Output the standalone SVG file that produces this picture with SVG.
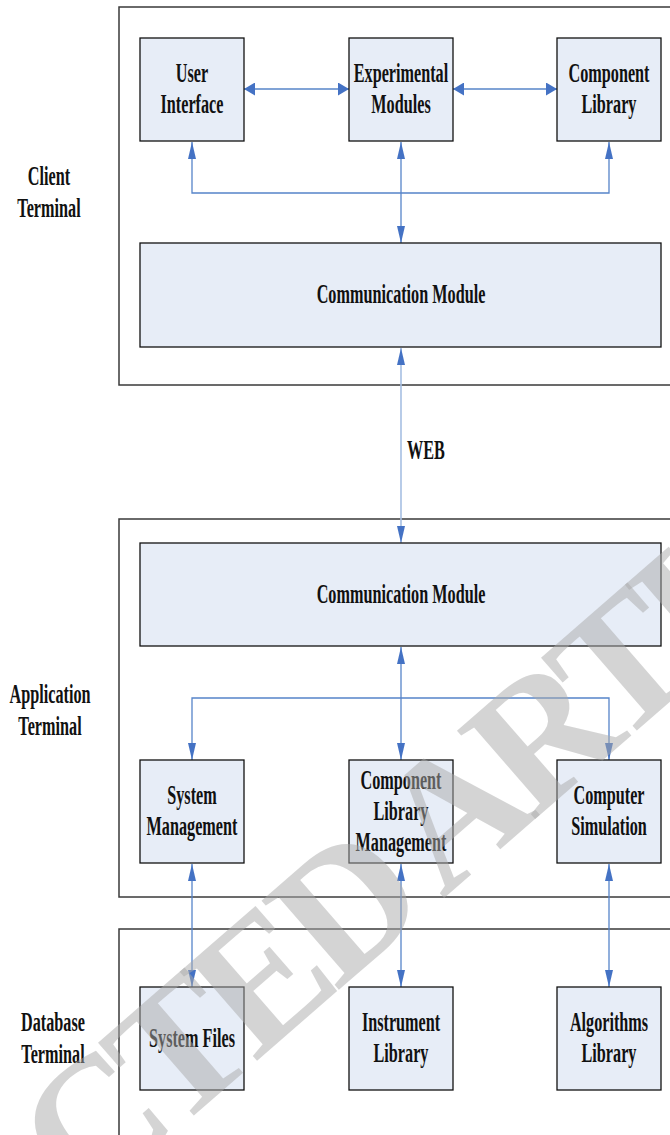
<svg xmlns="http://www.w3.org/2000/svg" width="670" height="1135" viewBox="0 0 670 1135">
<style>
.frame{fill:none;stroke:#3a3a3a;stroke-width:1.5}
.box{fill:#e7edf7;stroke:#111;stroke-width:1.3}
.t{font-family:"Liberation Serif","Times New Roman",serif;font-weight:bold;font-size:27px;fill:#111;text-anchor:middle}
.c{fill:none;stroke:#5684c9;stroke-width:1.3}
.cl{fill:none;stroke:#a6bfe3;stroke-width:1.6}
.wm{font-family:"Liberation Serif","Times New Roman",serif;font-weight:bold;font-size:180px;letter-spacing:-12px;fill:#aaaaaa;fill-opacity:0.5}
</style>
<defs>
<marker id="av" viewBox="0 0 17 8" refX="17" refY="4" markerWidth="17" markerHeight="8" markerUnits="userSpaceOnUse" orient="auto-start-reverse"><path d="M0,0 L17,4 L0,8 z" fill="#4472c4"/></marker>
<marker id="ah" viewBox="0 0 11 13" refX="11" refY="6.5" markerWidth="11" markerHeight="13" markerUnits="userSpaceOnUse" orient="auto-start-reverse"><path d="M0,0 L11,6.5 L0,13 z" fill="#4472c4"/></marker>
</defs>
<rect width="670" height="1135" fill="#fff"/>

<g id="frames">
<rect class="frame" x="119" y="7" width="600" height="378"/>
<rect class="frame" x="119" y="519" width="600" height="378"/>
<rect class="frame" x="119" y="929" width="600" height="300"/>
</g>

<g id="labels">
<text class="t" transform="translate(49,185) scale(0.6,1)"><tspan x="0">Client</tspan><tspan x="0" dy="32">Terminal</tspan></text>
<text class="t" transform="translate(50,703) scale(0.6,1)"><tspan x="0">Application</tspan><tspan x="0" dy="32">Terminal</tspan></text>
<text class="t" transform="translate(53,1031) scale(0.6,1)"><tspan x="0">Database</tspan><tspan x="0" dy="32">Terminal</tspan></text>
<text class="t" transform="translate(426,459) scale(0.6,1)">WEB</text>
</g>

<g id="connectors">
<path class="c" d="M244,89 H349" marker-start="url(#ah)" marker-end="url(#ah)"/>
<path class="c" d="M453,89 H557" marker-start="url(#ah)" marker-end="url(#ah)"/>
<path class="c" d="M192,142 V193 H609 V142" marker-start="url(#av)" marker-end="url(#av)"/>
<path class="c" d="M401,142 V243" marker-start="url(#av)" marker-end="url(#av)"/>
<path class="cl" d="M401,348 V543" marker-start="url(#av)" marker-end="url(#av)"/>
<path class="c" d="M401,647 V760" marker-start="url(#av)" marker-end="url(#av)"/>
<path class="c" d="M192,760 V698 H609 V760" marker-start="url(#av)" marker-end="url(#av)"/>
<path class="c" d="M192,864 V987" marker-start="url(#av)" marker-end="url(#av)"/>
<path class="c" d="M401,864 V987" marker-start="url(#av)" marker-end="url(#av)"/>
<path class="c" d="M609,864 V987" marker-start="url(#av)" marker-end="url(#av)"/>
</g>

<g id="user-interface"><rect class="box" x="140" y="38" width="104" height="103"/><text class="t" transform="translate(192,82) scale(0.6,1)"><tspan x="0">User</tspan><tspan x="0" dy="31">Interface</tspan></text></g>
<g id="experimental-modules"><rect class="box" x="349" y="38" width="104" height="103"/><text class="t" transform="translate(401,82) scale(0.6,1)"><tspan x="0">Experimental</tspan><tspan x="0" dy="31">Modules</tspan></text></g>
<g id="component-library"><rect class="box" x="557" y="38" width="104" height="103"/><text class="t" transform="translate(609,82) scale(0.6,1)"><tspan x="0">Component</tspan><tspan x="0" dy="31">Library</tspan></text></g>
<g id="client-communication"><rect class="box" x="140" y="243" width="521" height="104"/><text class="t" transform="translate(401,303) scale(0.6,1)">Communication Module</text></g>

<g id="app-communication"><rect class="box" x="140" y="543" width="521" height="103"/><text class="t" transform="translate(401,603) scale(0.6,1)">Communication Module</text></g>
<g id="system-management"><rect class="box" x="140" y="760" width="104" height="103"/><text class="t" transform="translate(192,804) scale(0.6,1)"><tspan x="0">System</tspan><tspan x="0" dy="31">Management</tspan></text></g>
<g id="component-library-management"><rect class="box" x="349" y="760" width="104" height="103"/><text class="t" transform="translate(401,789) scale(0.6,1)"><tspan x="0">Component</tspan><tspan x="0" dy="31">Library</tspan><tspan x="0" dy="31">Management</tspan></text></g>
<g id="computer-simulation"><rect class="box" x="557" y="760" width="104" height="103"/><text class="t" transform="translate(609,804) scale(0.6,1)"><tspan x="0">Computer</tspan><tspan x="0" dy="31">Simulation</tspan></text></g>

<g id="system-files"><rect class="box" x="140" y="987" width="104" height="103"/><text class="t" transform="translate(192,1047) scale(0.6,1)">System Files</text></g>
<g id="instrument-library"><rect class="box" x="349" y="987" width="104" height="103"/><text class="t" transform="translate(401,1031) scale(0.6,1)"><tspan x="0">Instrument</tspan><tspan x="0" dy="31">Library</tspan></text></g>
<g id="algorithms-library"><rect class="box" x="557" y="987" width="104" height="103"/><text class="t" transform="translate(609,1031) scale(0.6,1)"><tspan x="0">Algorithms</tspan><tspan x="0" dy="31">Library</tspan></text></g>

<g id="watermark"><text class="wm" transform="translate(-346,1585) rotate(-41)">RETRACTED ARTICLE</text></g>
</svg>
